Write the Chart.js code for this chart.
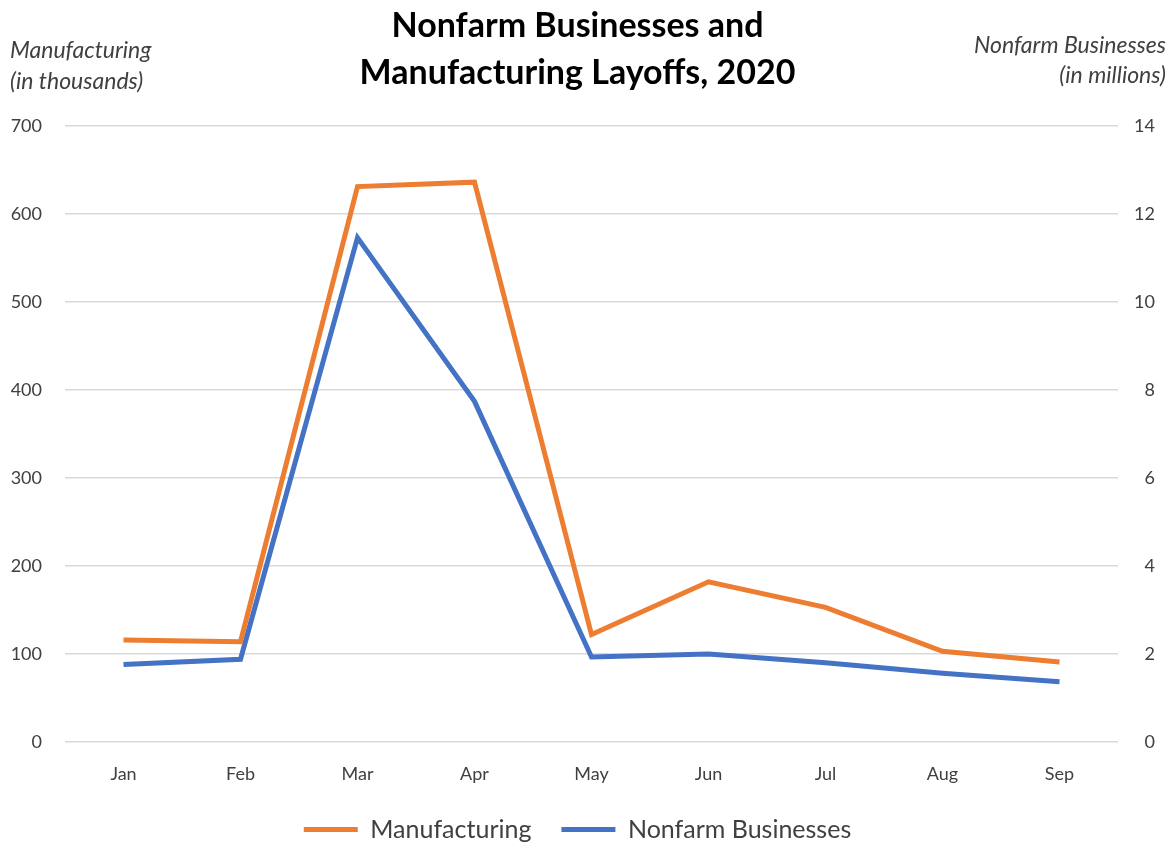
<!DOCTYPE html>
<html>
<head>
<meta charset="utf-8">
<script src="https://cdn.jsdelivr.net/npm/chart.js@4"></script>
<style>
  html, body { margin: 0; padding: 0; background: #fff; }
  #wrap { width: 1174px; height: 846px; position: relative; }
</style>
</head>
<body>
<div id="wrap"><canvas id="c" width="1174" height="846"></canvas></div>
<script>
const months = ['Jan', 'Feb', 'Mar', 'Apr', 'May', 'Jun', 'Jul', 'Aug', 'Sep'];
const manufacturing = [116, 114, 631, 636, 122, 182, 153, 103, 91];       // thousands
const nonfarm = [1.76, 1.88, 11.46, 7.74, 1.93, 2.0, 1.8, 1.56, 1.37];    // millions
const leftTicks = [0, 100, 200, 300, 400, 500, 600, 700];
const rightTicks = [0, 2, 4, 6, 8, 10, 12, 14];
const titleLines = ['Nonfarm Businesses and', 'Manufacturing Layoffs, 2020'];
const leftAxisTitle = ['Manufacturing', '(in thousands)'];
const rightAxisTitle = ['Nonfarm Businesses', '(in millions)'];

const FONT = "Lato, 'Open Sans', 'Noto Sans', sans-serif";
const ORANGE = '#ED7D31';
const BLUE = '#4472C4';

const axisTitlePlugin = {
  id: 'axisTitles',
  afterDraw(chart) {
    const ctx = chart.ctx;
    ctx.save();
    ctx.fillStyle = '#404040';
    ctx.font = "italic 23px " + FONT;
    ctx.textBaseline = 'middle';
    ctx.textAlign = 'left';
    leftAxisTitle.forEach((t, i) => ctx.fillText(t, 10, 51 + i * 31));
    ctx.textAlign = 'right';
    rightAxisTitle.forEach((t, i) => ctx.fillText(t, 1166, 46 + i * 30));
    ctx.restore();
  }
};

new Chart(document.getElementById('c'), {
  type: 'line',
  data: {
    labels: months,
    datasets: [
      {
        label: 'Manufacturing',
        data: manufacturing,
        borderColor: ORANGE,
        backgroundColor: ORANGE,
        borderWidth: 5,
        pointRadius: 0,
        tension: 0,
        yAxisID: 'y'
      },
      {
        label: 'Nonfarm Businesses',
        data: nonfarm,
        borderColor: BLUE,
        backgroundColor: BLUE,
        borderWidth: 5,
        pointRadius: 0,
        tension: 0,
        yAxisID: 'y1'
      }
    ]
  },
  options: {
    responsive: false,
    animation: false,
    layout: { padding: { left: 0, right: 19, top: 0, bottom: -6 } },
    plugins: {
      title: {
        display: true,
        text: titleLines,
        color: '#000',
        font: { family: FONT, size: 34, weight: 'bold', lineHeight: 1.38 },
        padding: { top: 3, bottom: 29 }
      },
      legend: {
        display: true,
        position: 'bottom',
        labels: {
          usePointStyle: true,
          pointStyle: 'line',
          pointStyleWidth: 54,
          boxHeight: 5,
          color: '#404040',
          font: { family: FONT, size: 25 },
          padding: 30
        }
      },
      tooltip: { enabled: false }
    },
    scales: {
      x: {
        offset: true,
        grid: { display: false, drawTicks: false },
        border: { display: false },
        afterFit(axis) { axis.height = 45; },
        ticks: { color: '#404040', font: { family: FONT, size: 18 }, padding: 21 }
      },
      y: {
        position: 'left',
        min: 0, max: 700,
        afterBuildTicks(axis) { axis.ticks = leftTicks.map(v => ({ value: v })); },
        afterFit(axis) { axis.width = 65; },
        grid: { color: '#d9d9d9', lineWidth: 1.5, drawTicks: false },
        border: { display: false },
        ticks: { color: '#404040', font: { family: FONT, size: 18 }, padding: 23 }
      },
      y1: {
        position: 'right',
        min: 0, max: 14,
        afterBuildTicks(axis) { axis.ticks = rightTicks.map(v => ({ value: v })); },
        afterFit(axis) { axis.width = 37; },
        grid: { display: false, drawTicks: false },
        border: { display: false },
        ticks: { color: '#404040', font: { family: FONT, size: 18 }, padding: 10, crossAlign: 'far' }
      }
    }
  },
  plugins: [axisTitlePlugin]
});
</script>
</body>
</html>
